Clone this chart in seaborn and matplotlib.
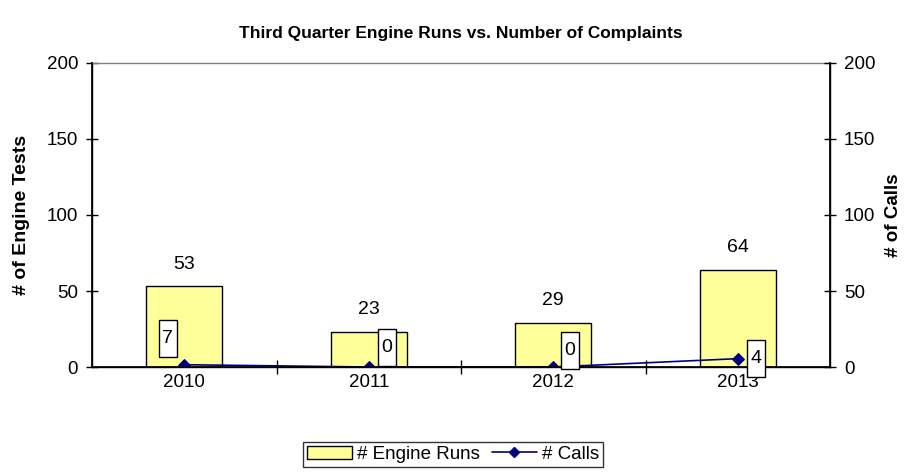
import matplotlib
matplotlib.use("Agg")
import matplotlib.pyplot as plt
import seaborn as sns
import pandas as pd
from matplotlib.patches import Rectangle
from matplotlib.offsetbox import DrawingArea, AnnotationBbox
from matplotlib.text import Text
from matplotlib.lines import Line2D
from matplotlib.ticker import FixedLocator

years = ["2010", "2011", "2012", "2013"]
engine_runs = [53, 23, 29, 64]
calls_plotted = [1.5, 0, 0, 5.5]
call_labels = ["7", "0", "0", "4"]
yticks = [0, 50, 100, 150, 200]

sns.set_theme(style="white")
plt.rcParams['font.family'] = ['Liberation Sans', 'DejaVu Sans']
for k in ["text.color", "axes.labelcolor", "xtick.color", "ytick.color"]:
    plt.rcParams[k] = "black"

fig = plt.figure(figsize=(9.05, 4.74), dpi=100)
ax = fig.add_axes([92/905, 1-367/474, (830-92)/905, (367-63)/474])

df = pd.DataFrame({"year": years, "runs": engine_runs})
sns.barplot(data=df, x="year", y="runs", ax=ax, color="#FFFF99", saturation=1,
            width=0.41, edgecolor="black", linewidth=1.0)
ax.set_xlim(-0.5, 3.5)
ax.set_ylim(0, 200)
ax.set_yticks(yticks)
ax.set_xlabel("")
ax.set_ylabel("# of Engine Tests", fontsize=14, fontweight="bold", labelpad=12)
ax.tick_params(axis="y", direction="inout", length=8, width=1, labelsize=13.5, color="black", left=True, pad=6)
ax.tick_params(axis="x", which="major", length=0, labelsize=13.5, pad=5)
ax.xaxis.set_minor_locator(FixedLocator([0.5, 1.5, 2.5]))
ax.tick_params(axis="x", which="minor", direction="inout", length=10, width=1, color="black", bottom=True)
for s in ["left", "bottom", "right"]:
    ax.spines[s].set_color("black")
    ax.spines[s].set_linewidth(1.0)
ax.spines["top"].set_color("#808080")
ax.spines["top"].set_linewidth(1.0)

for i, v in enumerate(engine_runs):
    ax.annotate(str(v), (i, v), xytext=(0, 10), textcoords="offset points",
                ha="center", va="bottom", fontsize=14)

ax2 = ax.twinx()
cdf = pd.DataFrame({"x": [0, 1, 2, 3], "calls": calls_plotted})
sns.lineplot(data=cdf, x="x", y="calls", ax=ax2, color="#000080", marker="D",
             markersize=6, markeredgecolor="#000080", linewidth=1.2)
ax2.set_ylim(0, 200)
ax2.set_xlim(-0.5, 3.5)
ax2.set_yticks(yticks)
ax2.set_ylabel("# of Calls", fontsize=13.5, fontweight="bold", labelpad=7)
ax2.tick_params(axis="y", direction="inout", length=8, width=1, labelsize=13.5, color="black", right=True, pad=6)
ax2.set_xlabel("")
for s in ["left", "bottom", "right"]:
    ax2.spines[s].set_color("black")
ax2.spines["top"].set_visible(False)

offsets = [(-12, 19), (13, 14), (12, 12), (13, 0)]
bw, bh = 13, 27
for i, (lab, off) in enumerate(zip(call_labels, offsets)):
    da = DrawingArea(bw, bh, 0, 0)
    da.add_artist(Rectangle((0, 0), bw, bh, facecolor="white", edgecolor="black", linewidth=1.0))
    da.add_artist(Text(bw/2, bh/2, lab, ha="center", va="center", fontsize=14,
                       family=['Liberation Sans', 'DejaVu Sans'], color="black"))
    ab = AnnotationBbox(da, (i, calls_plotted[i]), xybox=off, boxcoords="offset points",
                        frameon=False, pad=0, box_alignment=(0.5, 0.5))
    ax2.add_artist(ab)

ax.set_title("Third Quarter Engine Runs vs. Number of Complaints", fontsize=12.5,
             fontweight="bold", pad=18)

handles = [Rectangle((0, 0), 1, 1, facecolor="#FFFF99", edgecolor="black", linewidth=1.0),
           Line2D([0], [0], color="#000080", marker="D", markersize=5, linewidth=1.2)]
leg = fig.legend(handles, ["# Engine Runs", "# Calls"], loc="upper right",
                 bbox_to_anchor=(603/905, 1-442/474), ncol=2, fontsize=13.5,
                 frameon=True, fancybox=False, edgecolor="black", handlelength=2.4,
                 handleheight=0.7, columnspacing=0.6, handletextpad=0.3, borderpad=0.2,
                 borderaxespad=0)
leg.get_frame().set_linewidth(1.0)

fig.savefig("out.png", dpi=100)
